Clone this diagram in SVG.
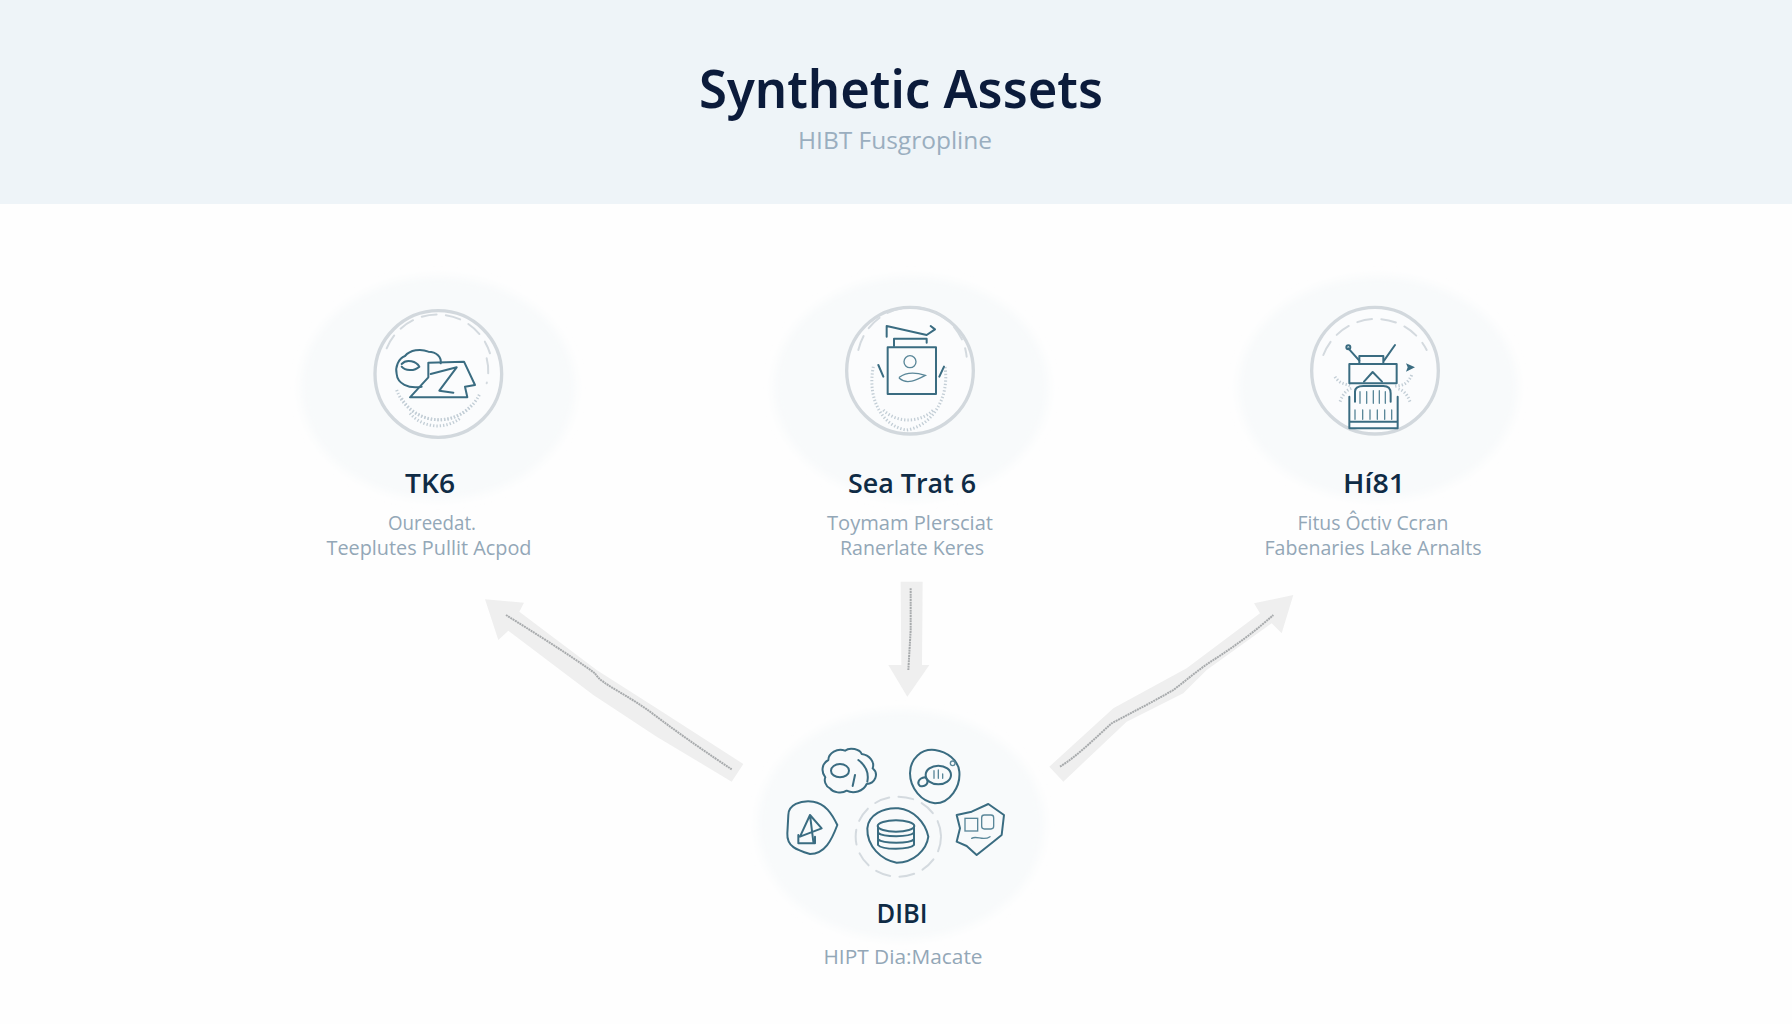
<svg xmlns="http://www.w3.org/2000/svg" width="1792" height="1024" viewBox="0 0 1792 1024">
<style>
text{font-family:"Open Sans","Noto Sans","Liberation Sans",sans-serif;text-anchor:middle}
.title{font-family:"Noto Sans","Open Sans",sans-serif;font-size:52px;font-weight:600;fill:#0b1b3b}
.subtitle{font-size:24px;font-weight:500;fill:#9aaebf}
.label{font-size:27px;font-weight:600;fill:#0f2b45}
.sub{font-size:20px;fill:#93a7b7}
.halo{fill:#f8fafb;filter:url(#soft)}
.ring{fill:#fbfcfd;stroke:#d2d8dd;stroke-width:10}
.dash{fill:none;stroke:#d4dadf;stroke-width:6;stroke-dasharray:45 28;stroke-linecap:round}
.speck{fill:none;stroke:#c3ced6;stroke-width:9;stroke-dasharray:4 6}
.ink{fill:none;stroke:#3a6c81;stroke-width:6;stroke-linejoin:round;stroke-linecap:round}
.thin{fill:none;stroke:#5a8799;stroke-width:4;stroke-linecap:round}
.arrow{fill:#efefef}
.core{fill:none;stroke:#a8abad;stroke-width:6;stroke-dasharray:6 2}
</style>
<defs>
<filter id="soft" x="-10%" y="-10%" width="120%" height="120%"><feGaussianBlur stdDeviation="4"/></filter>
</defs>
<rect width="1792" height="1024" fill="#fefefe"/>
<g id="header">
<rect width="1792" height="204" fill="#eef4f8"/>
<text class="title" x="901" y="108" textLength="404" lengthAdjust="spacingAndGlyphs">Synthetic Assets</text>
<text class="subtitle" x="895" y="149" textLength="194" lengthAdjust="spacingAndGlyphs">HIBT Fusgropline</text>
</g>
<g id="connectors">
<g transform="translate(470,580) scale(.33333)">
<polygon class="arrow" points="45,58 162,68 148,95 380,270 560,385 820,552 785,605 560,470 370,345 115,152 85,180"/>
<path class="core" d="M108,105 C180,150 300,225 375,280 C395,315 470,340 560,410 C640,470 720,525 785,568"/>
</g>
<g transform="translate(860,570) scale(.33333)">
<polygon class="arrow" points="122,35 188,35 186,285 208,285 142,380 85,285 124,285"/>
<path class="core" d="M152,55 L152,180 L145,300" stroke-dasharray="9 3" stroke-width="7"/>
</g>
<g transform="translate(1040,580) scale(.33333)">
<polygon class="arrow" points="28,560 220,385 440,265 660,100 642,70 760,45 725,160 695,130 500,270 430,340 260,425 70,605"/>
<path class="core" d="M60,560 C110,530 170,470 215,430 C280,395 340,365 400,330 C440,300 480,265 520,240 C590,195 650,150 700,105"/>
</g>
</g>
<g id="node-tk">
<ellipse class="halo" cx="438" cy="388" rx="138" ry="112"/>
<g transform="translate(290,270) scale(.33333)">
<circle class="ring" cx="445" cy="312" r="190"/>
<path class="dash" d="M290,235 A165,165 0 0 1 600,250"/>
<path class="dash" d="M590,265 A150,150 0 0 1 590,340"/>
<path class="speck" d="M320,360 A135,135 0 0 0 570,370"/>
<path class="speck" d="M335,385 A130,130 0 0 0 545,405"/>
<path class="speck" d="M360,430 A110,110 0 0 0 510,445"/>
<path class="ink" d="M395,350 C355,358 322,340 320,312 C315,292 325,265 345,258 C360,240 392,235 415,245 C440,245 455,262 452,280"/>
<path class="ink" d="M335,282 C350,265 380,275 388,290 C372,305 345,302 335,290"/>
<path class="ink" d="M415,278 L522,275 L555,345 L525,350 L532,382 L360,382 L415,322 Z"/>
<path class="ink" d="M422,312 L500,292 L448,362 L490,368"/>
</g>
<text class="label" x="430" y="493" textLength="50" lengthAdjust="spacingAndGlyphs">TK6</text>
<text class="sub" x="432" y="530" textLength="88" lengthAdjust="spacingAndGlyphs">Oureedat.</text>
<text class="sub" x="429" y="555" textLength="205" lengthAdjust="spacingAndGlyphs">Teeplutes Pullit Acpod</text>
</g>
<g id="node-sea">
<ellipse class="halo" cx="911" cy="388" rx="138" ry="112"/>
<g transform="translate(770,270) scale(.33333)">
<circle class="ring" cx="420" cy="302" r="190"/>
<path class="dash" d="M265,240 A165,165 0 0 1 590,260"/>
<path class="speck" d="M310,290 C290,390 340,470 410,480 C480,470 540,390 525,290"/>
<path class="speck" d="M340,420 C380,460 450,460 490,420"/>
<path class="ink" d="M350,200 L350,168 L470,195 L495,178 M482,168 L495,178 L470,195"/>
<path class="ink" d="M372,228 V206 H470 V218"/>
<rect class="ink" x="353" y="232" width="145" height="140"/>
<circle class="thin" cx="420" cy="275" r="18"/>
<path class="thin" d="M388,322 C410,305 440,308 466,316 C440,330 410,345 388,325"/>
<path class="ink" d="M325,285 L340,320 M522,290 L508,320"/>
</g>
<text class="label" x="912" y="493" textLength="128" lengthAdjust="spacingAndGlyphs">Sea Trat 6</text>
<text class="sub" x="910" y="530" textLength="166" lengthAdjust="spacingAndGlyphs">Toymam Plersciat</text>
<text class="sub" x="912" y="555" textLength="144" lengthAdjust="spacingAndGlyphs">Ranerlate Keres</text>
</g>
<g id="node-hi">
<ellipse class="halo" cx="1378" cy="388" rx="140" ry="112"/>
<g transform="translate(1240,270) scale(.33333)">
<circle class="ring" cx="405" cy="302" r="190"/>
<path class="dash" d="M250,255 A170,170 0 0 1 560,240"/>
<path class="speck" d="M285,320 C300,345 320,340 335,350 M515,315 C500,350 480,345 460,350 M510,395 C500,370 490,360 470,355 M300,395 C310,370 320,360 335,355"/>
<path class="ink" d="M358,272 L325,235 M432,272 L465,225"/>
<circle class="ink" cx="325" cy="232" r="6"/>
<path class="ink" d="M358,282 V258 H430 V282"/>
<rect class="ink" x="328" y="282" width="142" height="58"/>
<path class="ink" d="M372,335 L398,306 L426,335"/>
<path class="ink" d="M345,395 V365 C345,352 355,348 370,348 H430 C445,348 452,355 452,370 V395"/>
<path class="ink" d="M328,380 V475 H473 V380 M328,455 H473"/>
<path class="thin" d="M360,365 V400 M380,365 V400 M400,362 V400 M418,362 V400 M436,365 V400 M345,420 V448 M368,420 V448 M390,420 V448 M412,420 V448 M434,420 V448 M455,420 V448"/>
<path d="M498,280 L525,292 L498,305 L503,292Z" fill="#3a6c81"/>
</g>
<text class="label" x="1374" y="493" textLength="62" lengthAdjust="spacingAndGlyphs">Hí81</text>
<text class="sub" x="1373" y="530" textLength="151" lengthAdjust="spacingAndGlyphs">Fitus Ôctiv Ccran</text>
<text class="sub" x="1373" y="555" textLength="217" lengthAdjust="spacingAndGlyphs">Fabenaries Lake Arnalts</text>
</g>
<g id="node-dibi">
<ellipse class="halo" cx="901" cy="825" rx="144" ry="115"/>
<g transform="translate(750,700) scale(.33333)">
<path class="ink" d="M240,265 C225,258 222,240 226,232 C212,215 216,190 235,180 C235,160 262,142 285,152 C300,140 330,148 335,162 C358,165 375,185 368,205 C388,222 375,250 350,252 C340,275 310,282 290,272 C275,282 250,278 240,265Z"/>
<ellipse class="ink" cx="270" cy="212" rx="27" ry="20"/>
<path class="ink" d="M325,180 C345,195 358,215 352,245 M315,225 L308,258"/>
<path class="ink" d="M480,220 C480,175 515,145 555,150 C590,155 625,180 628,215 C632,260 600,310 555,310 C515,305 480,265 480,220Z"/>
<circle class="thin" cx="608" cy="190" r="7"/>
<ellipse class="ink" cx="565" cy="225" rx="38" ry="28"/>
<path class="ink" d="M525,232 C505,235 500,250 510,258 C525,262 540,250 528,234"/>
<path class="thin" d="M552,212 L552,235 M565,210 L565,235 M578,222 L578,235"/>
<path class="ink" d="M115,345 C115,315 150,300 190,305 C225,310 245,340 262,375 C245,420 225,462 180,462 C140,450 110,440 112,400Z"/>
<path class="ink" d="M180,345 L150,410 L215,385 Z M180,345 L190,425 M145,405 V430 H195 V410"/>
<ellipse class="dash" cx="445" cy="410" rx="128" ry="120" stroke-dasharray="38 26"/>
<path class="ink" d="M352,385 C355,345 400,322 445,325 C490,330 525,365 535,410 C530,450 490,488 440,488 C395,480 350,440 352,385Z"/>
<ellipse class="ink" cx="438" cy="378" rx="55" ry="17"/>
<path class="ink" d="M384,380 V435 C395,450 480,450 492,435 V380 M384,398 C400,412 478,412 492,398 M384,418 C400,432 478,432 492,418"/>
<path class="ink" d="M620,345 L665,335 L715,312 L762,345 L755,405 L730,425 L680,465 L650,438 L620,425 L630,385Z"/>
<rect class="thin" x="645" y="355" width="38" height="38"/>
<rect class="thin" x="695" y="345" width="36" height="42" rx="8"/>
<path class="thin" d="M665,415 C680,405 700,425 720,410"/>
</g>
<text class="label" x="902" y="923" textLength="51" lengthAdjust="spacingAndGlyphs">DIBI</text>
<text class="sub" x="903" y="964" textLength="159" lengthAdjust="spacingAndGlyphs">HIPT Dia:Macate</text>
</g>
</svg>
